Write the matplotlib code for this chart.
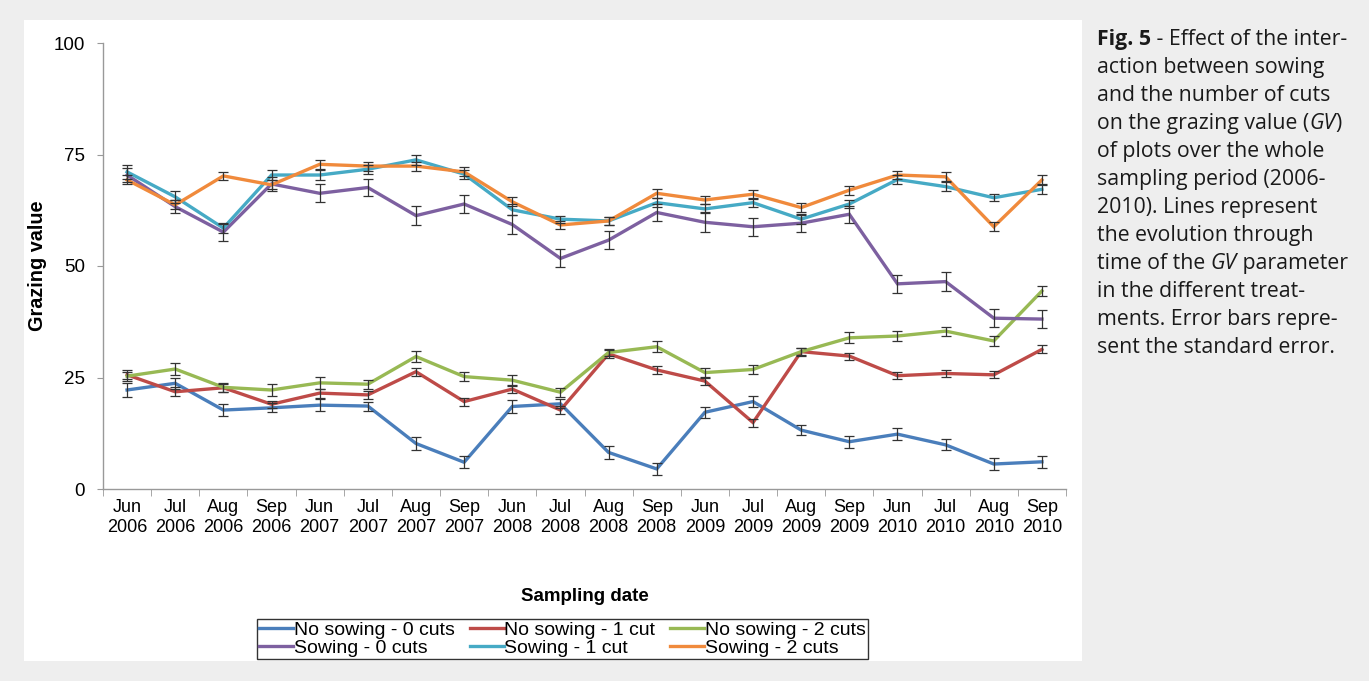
import matplotlib
matplotlib.use("Agg")
import matplotlib.pyplot as plt
import numpy as np

# sampling dates (category axis)
months = ["Jun", "Jul", "Aug", "Sep"]
years = ["2006", "2007", "2008", "2009", "2010"]
dates = [m + "\n" + y for y in years for m in months]

# grazing value
ns0 = [22.2, 23.7, 17.7, 18.2, 18.8, 18.6, 10.2, 6.0, 18.5, 19.1,
       8.2, 4.5, 17.2, 19.6, 13.2, 10.6, 12.3, 9.9, 5.6, 6.1]
ns1 = [25.6, 21.8, 22.7, 19.0, 21.5, 21.1, 26.3, 19.6, 22.4, 17.7,
       30.3, 26.7, 24.2, 14.9, 30.8, 29.8, 25.4, 25.9, 25.6, 31.3]
ns2 = [25.3, 26.9, 22.8, 22.2, 23.8, 23.5, 29.7, 25.2, 24.4, 21.7,
       30.6, 31.9, 26.1, 26.8, 30.8, 33.9, 34.3, 35.4, 33.2, 44.4]
s0 = [70.4, 63.3, 57.6, 68.4, 66.3, 67.6, 61.3, 63.9, 59.3, 51.7,
      55.8, 62.0, 59.8, 58.8, 59.6, 61.6, 46.0, 46.5, 38.3, 38.1]
s1 = [71.1, 65.5, 58.5, 70.4, 70.4, 71.7, 73.8, 70.6, 62.6, 60.5,
      60.1, 64.2, 62.8, 64.2, 60.5, 63.9, 69.4, 67.8, 65.3, 67.2]
s2 = [69.3, 63.7, 70.2, 68.2, 72.8, 72.4, 72.4, 71.1, 64.4, 59.2,
      60.1, 66.3, 64.8, 66.1, 63.1, 67.0, 70.4, 70.0, 58.8, 69.3]

# standard errors
ns0_se = [1.5, 1.2, 1.4, 1.0, 1.3, 1.0, 1.4, 1.4, 1.4, 1.0,
          1.4, 1.3, 1.2, 1.3, 1.2, 1.3, 1.3, 1.2, 1.3, 1.3]
ns1_se = [1.0, 1.0, 0.9, 0.8, 1.0, 0.9, 0.9, 0.9, 0.9, 0.9,
          0.9, 0.9, 0.8, 0.9, 0.9, 0.8, 0.8, 0.8, 0.8, 0.9]
ns2_se = [1.0, 1.4, 1.0, 1.3, 1.3, 1.0, 1.3, 1.0, 1.2, 1.0,
          0.8, 1.2, 1.0, 1.0, 0.8, 1.2, 1.2, 1.0, 1.2, 1.2]
s0_se = [1.5, 1.5, 2.0, 1.5, 2.0, 2.0, 2.1, 2.1, 2.2, 2.0,
         2.0, 2.0, 2.2, 2.0, 2.0, 1.9, 2.0, 2.1, 2.0, 2.0]
s1_se = [1.5, 1.3, 1.0, 1.2, 1.2, 1.0, 1.2, 1.0, 1.2, 0.8,
         0.8, 1.0, 1.0, 1.0, 1.0, 1.0, 1.0, 1.0, 0.8, 1.0]
s2_se = [1.0, 1.0, 0.9, 1.0, 1.0, 1.0, 1.0, 1.0, 1.0, 1.0,
         0.9, 1.0, 1.0, 1.0, 1.0, 1.0, 1.0, 1.0, 1.0, 1.0]

names = ["No sowing - 0 cuts", "No sowing - 1 cut", "No sowing - 2 cuts",
         "Sowing - 0 cuts", "Sowing - 1 cut", "Sowing - 2 cuts"]
series = [ns0, ns1, ns2, s0, s1, s2]
errors = [ns0_se, ns1_se, ns2_se, s0_se, s1_se, s2_se]
colors = ["#4a7ebb", "#be4b48", "#98b954", "#7d60a0", "#46aac5", "#f08a3c"]

plt.rcParams["font.family"] = ["Liberation Sans", "DejaVu Sans"]

fig = plt.figure(figsize=(13.69, 6.81), dpi=100, facecolor="#eeeeee")
# white panel behind the chart
fig.patches.append(plt.Rectangle((24 / 1369, 1 - 661 / 681), (1082 - 24) / 1369,
                                 (661 - 20) / 681, transform=fig.transFigure,
                                 facecolor="white", edgecolor="none", zorder=-5))

ax = fig.add_axes([103 / 1369, 1 - 489 / 681, (1066 - 103) / 1369, (489 - 43) / 681])
ax.set_zorder(2)
ax.set_facecolor("white")
x = np.arange(len(dates))
lines = []
for vals, se, c, nm in zip(series, errors, colors, names):
    ln, = ax.plot(x, vals, color=c, lw=2.4, label=nm, zorder=2, solid_joinstyle="miter")
    lines.append(ln)
    ax.errorbar(x, vals, yerr=se, fmt="none", ecolor="#333333", elinewidth=0.9,
                capsize=3.5, capthick=0.9, zorder=3)

ax.set_xlim(-0.5, len(dates) - 0.5)
ax.set_ylim(0, 100)
ax.set_yticks([0, 25, 50, 75, 100])
ax.set_xticks(x)
ax.set_xticklabels(dates, fontsize=13, linespacing=1.25)
ax.set_xticks(np.arange(-0.5, len(dates)), minor=True)
ax.tick_params(axis="x", which="major", length=0, pad=7)
ax.tick_params(axis="x", which="minor", length=5, color="#999999")
ax.tick_params(axis="y", length=4, color="#999999", labelsize=13.5, pad=9)
for s in ["top", "right"]:
    ax.spines[s].set_visible(False)
for s in ["left", "bottom"]:
    ax.spines[s].set_color("#999999")
    ax.spines[s].set_linewidth(1)

ax.set_ylabel("Grazing value", fontsize=14.3, fontweight="bold")
ax.yaxis.set_label_coords(-(103 - 47) / 963, 0.5)
ax.set_xlabel("Sampling date", fontsize=13.5, fontweight="bold")
ax.xaxis.set_label_coords(0.5, -(588 - 489) / 446)

# legend filled row by row, like the original
order = [0, 3, 1, 4, 2, 5]
leg = fig.legend([lines[i] for i in order], [names[i] for i in order],
                 loc="center", bbox_to_anchor=(562.5 / 1369, 1 - 639 / 681), ncol=3,
                 fontsize=14, frameon=True, fancybox=False, edgecolor="black",
                 handlelength=1.75, handletextpad=0.05, columnspacing=0.75,
                 borderpad=0.12, labelspacing=0.0, borderaxespad=0)
leg.get_frame().set_linewidth(1.0)
leg.set_zorder(3)

# caption, one line at a time
cap = [
    [("Fig. 5", "bold", "normal"), (" - Effect of the inter-", "normal", "normal")],
    [("action between sowing", "normal", "normal")],
    [("and the number of cuts", "normal", "normal")],
    [("on the grazing value (", "normal", "normal"), ("GV", "normal", "italic"), (")", "normal", "normal")],
    [("of plots over the whole", "normal", "normal")],
    [("sampling period (2006-", "normal", "normal")],
    [("2010). Lines represent", "normal", "normal")],
    [("the evolution through", "normal", "normal")],
    [("time of the ", "normal", "normal"), ("GV", "normal", "italic"), (" parameter", "normal", "normal")],
    [("in the different treat-", "normal", "normal")],
    [("ments. Error bars repre-", "normal", "normal")],
    [("sent the standard error.", "normal", "normal")],
]
cap_font = ["Open Sans", "DejaVu Sans"]
cap_size = 15.3
for i, parts in enumerate(cap):
    ypix = 50 + i * 28
    prev = None
    for txt, w, st in parts:
        if prev is None:
            prev = fig.text(1097 / 1369, 1 - ypix / 681, txt, fontsize=cap_size, family=cap_font,
                            fontweight=w, fontstyle=st, color="#1a1a1a", va="bottom", ha="left")
        else:
            prev = ax.annotate(txt, xy=(1, 0), xycoords=prev, fontsize=cap_size, family=cap_font,
                               fontweight=w, fontstyle=st, color="#1a1a1a",
                               va="bottom", ha="left", annotation_clip=False)

fig.savefig("out.png", dpi=100, facecolor=fig.get_facecolor())
